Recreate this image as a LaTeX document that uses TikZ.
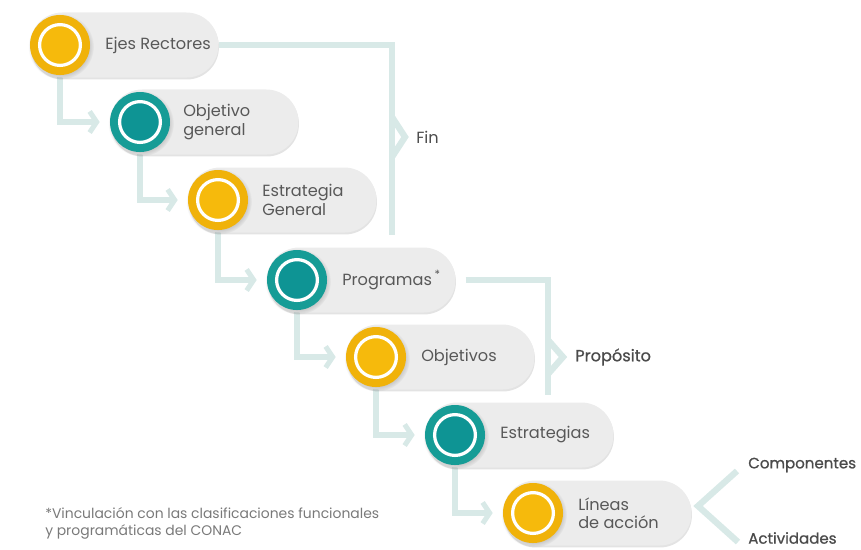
\documentclass[tikz,border=0pt]{standalone}
\usepackage{fontspec}
\setmainfont{Poppins}
\newfontface\semibf{Poppins}[FakeBold=0.9]
\usetikzlibrary{arrows.meta, positioning, shadows, calc, backgrounds}
\definecolor{SunRing}{RGB}{240,178,10}
\definecolor{SunCore}{RGB}{246,186,12}
\definecolor{SeaRing}{RGB}{22,156,150}
\definecolor{SeaCore}{RGB}{14,148,148}
\definecolor{PillGray}{RGB}{236,236,236}
\definecolor{LinkTeal}{RGB}{216,233,231}
\definecolor{TextGray}{RGB}{88,88,88}

\begin{document}
\begin{tikzpicture}[x=0.025cm, y=-0.025cm,
            pill/.style={fill=PillGray, rounded corners=0.8cm, minimum width=4.7cm, minimum height=1.625cm, anchor=west, drop shadow={shadow xshift=0.4pt, shadow yshift=-1.4pt, opacity=0.22}},
            ring/.style={circle, minimum size=1.5cm, inner sep=0pt, circular drop shadow={shadow xshift=0.6pt, shadow yshift=-1pt, opacity=0.3}},
            core/.style={circle, minimum size=1.02cm, inner sep=0pt, draw=white, line width=2.3pt},
            sun/.style={ring, fill=SunRing},
            sea/.style={ring, fill=SeaRing},
            txt/.style={anchor=west, align=left, text=TextGray, font=\fontsize{11.5}{13}\selectfont, inner sep=0pt},
            tag/.style={anchor=west, text=TextGray!85!black, font=\fontsize{11.5}{13}\selectfont, inner sep=0pt},
            strong/.style={tag, font=\fontsize{11.5}{13}\semibf},
            link/.style={draw=LinkTeal, line width=4.5pt, -{Straight Barb[length=5pt, width=15pt, line width=3.6pt]}, shorten >=0.25cm},
            brk/.style={draw=LinkTeal, line width=4.5pt}
        ]
        \useasboundingbox (0,0) rectangle (861,549);

        % The Pills
        \node[pill] (p1) at (30,45) {};
        \node[pill] (p2) at (110,122) {};
        \node[pill] (p3) at (188,200) {};
        \node[pill] (p4) at (267,280) {};
        \node[pill] (p5) at (346,357) {};
        \node[pill] (p6) at (425,435) {};
        \node[pill] (p7) at (503,513) {};

        % The Circles
        \node[sun] (c1) at (60,45) {};
        \node[core, fill=SunCore] (k1) at (c1) {};
        \node[sea] (c2) at (140,122) {};
        \node[core, fill=SeaCore] (k2) at (c2) {};
        \node[sun] (c3) at (218,200) {};
        \node[core, fill=SunCore] (k3) at (c3) {};
        \node[sea] (c4) at (297,280) {};
        \node[core, fill=SeaCore] (k4) at (c4) {};
        \node[sun] (c5) at (376,357) {};
        \node[core, fill=SunCore] (k5) at (c5) {};
        \node[sea] (c6) at (455,435) {};
        \node[core, fill=SeaCore] (k6) at (c6) {};
        \node[sun] (c7) at (533,513) {};
        \node[core, fill=SunCore] (k7) at (c7) {};

        % Texts
        \node[txt] (t1) at (105,45) {Ejes Rectores};
        \node[txt] (t2) at (183,122) {Objetivo\\general};
        \node[txt] (t3) at (262,200) {Estrategia\\General};
        \node[txt] (t4) at (342,280) {Programas\,\textsuperscript{*}};
        \node[txt] (t5) at (421,357) {Objetivos};
        \node[txt] (t6) at (500,435) {Estrategias};
        \node[txt] (t7) at (578,513) {Líneas\\de acción};

        % Labels
        \node[tag] (fin) at (416,137) {Fin};
        \node[strong] (prop) at (575,357) {Propósito};
        \node[strong, font=\fontsize{10.7}{13}\semibf] (comp) at (748,465) {Componentes};
        \node[strong, font=\fontsize{10.7}{13}\semibf] (act) at (748,538) {Actividades};
        \node[anchor=north west, align=left, text=TextGray!80, font=\fontsize{9.9}{12}\selectfont, inner sep=0pt] (note) at (45,507) {*Vinculación con las clasificaciones funcionales\\y programáticas del CONAC};

        \coordinate (finTip) at (405,137);
        \coordinate (propTip) at (563,357);
        \coordinate (fork) at (698,506);

        \begin{scope}[on background layer]
        % Steps
        \draw[link] (c1) |- (c2);
        \draw[link] (c2) |- (c3);
        \draw[link] (c3) |- (c4);
        \draw[link] (c4) |- (c5);
        \draw[link] (c5) |- (c6);
        \draw[link] (c6) |- (c7);

        % Brackets
        \draw[brk] (p1.east) -- (392,45) -- (392,235);
        \draw[brk] ($(finTip)+(-13,-20)$) -- (finTip) -- ($(finTip)+(-13,20)$);
        \draw[brk, shorten <=0.25cm] (p4.east) -- (548,280) -- (548,395);
        \draw[brk] ($(propTip)+(-15,-17)$) -- (propTip) -- ($(propTip)+(-15,17)$);
        \draw[brk] ($(comp.west)+(-11,6)$) -- (fork) -- ($(act.west)+(-10,4)$);
        \end{scope}

        \end{tikzpicture}
\end{document}
